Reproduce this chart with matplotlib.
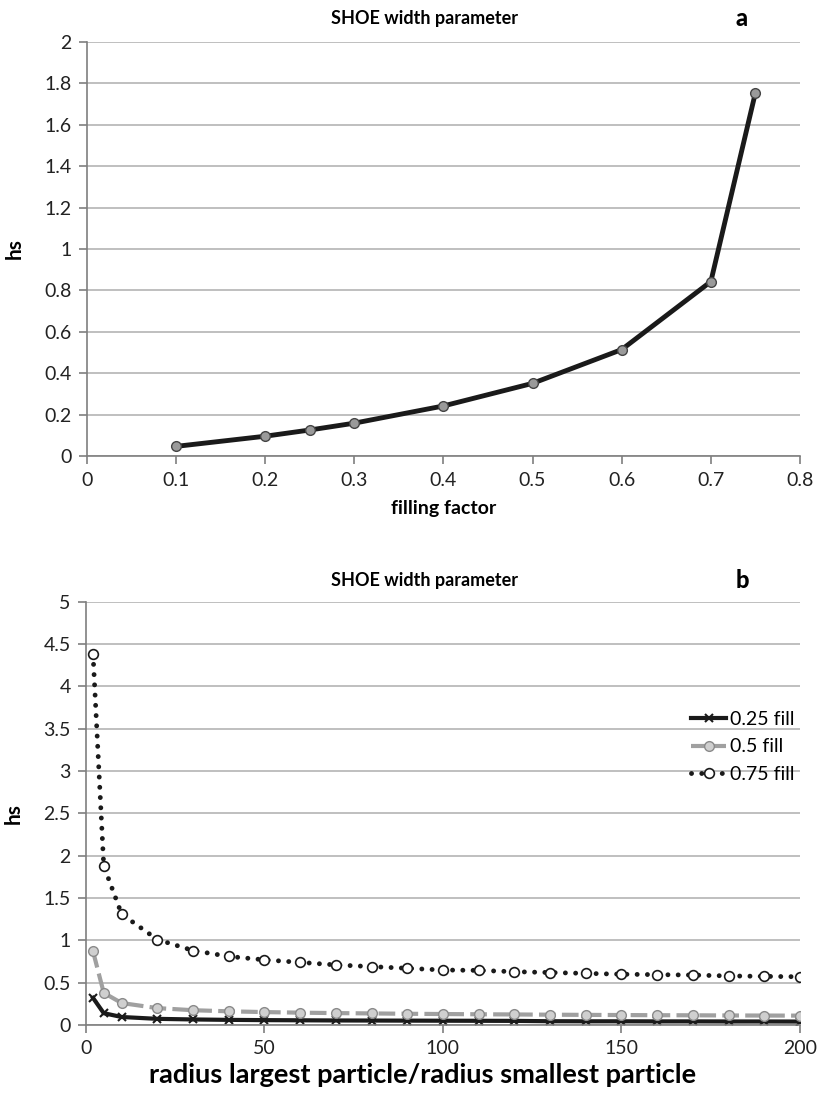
import matplotlib
matplotlib.use("Agg")
import matplotlib.pyplot as plt
from matplotlib.ticker import FuncFormatter, MultipleLocator

plt.rcParams['font.family'] = ['Lato', 'DejaVu Sans']

# panel a data
fill = [0.1, 0.2, 0.25, 0.3, 0.4, 0.5, 0.6, 0.7, 0.75]
hs_fill = [0.048, 0.097, 0.127, 0.16, 0.243, 0.352, 0.515, 0.843, 1.754]

# panel b data
ratio = [2, 5, 10, 20, 30, 40, 50, 60, 70, 80, 90, 100, 110, 120, 130, 140, 150, 160, 170, 180, 190, 200]
hs_025 = [0.32, 0.14, 0.095, 0.073, 0.066, 0.061, 0.058, 0.056, 0.054, 0.053, 0.052, 0.051, 0.050,
          0.049, 0.045, 0.044, 0.044, 0.043, 0.043, 0.042, 0.042, 0.041]
hs_050 = [0.87, 0.38, 0.26, 0.20, 0.175, 0.162, 0.153, 0.146, 0.141, 0.137, 0.133, 0.130, 0.127,
          0.125, 0.122, 0.120, 0.118, 0.116, 0.115, 0.113, 0.112, 0.111]
hs_075 = [4.38, 1.88, 1.31, 1.01, 0.88, 0.81, 0.77, 0.74, 0.71, 0.69, 0.67, 0.65, 0.645,
          0.63, 0.62, 0.61, 0.60, 0.595, 0.59, 0.58, 0.575, 0.57]

fmt = FuncFormatter(lambda v, p: '{:g}'.format(round(v, 3)))


def style_axes(ax):
    for s in ['top', 'right']:
        ax.spines[s].set_visible(False)
    for s in ['left', 'bottom']:
        ax.spines[s].set_color('#7f7f7f')
        ax.spines[s].set_linewidth(1.2)
    ax.grid(axis='y', color='#b4b4b4', linewidth=1.2)
    ax.set_axisbelow(True)
    ax.tick_params(direction='out', length=6, width=1.2, color='#7f7f7f',
                   labelsize=14, labelcolor='#222222', pad=5)
    ax.yaxis.set_major_formatter(fmt)
    ax.xaxis.set_major_formatter(fmt)


fig = plt.figure(figsize=(8.18, 10.97), dpi=100)

#%% panel a
ax1 = fig.add_axes([0.106, 0.584, 0.872, 0.378])
ax1.plot(fill, hs_fill, color='#1a1a1a', linewidth=3.5, marker='o', markersize=7,
         markerfacecolor='#9a9a9a', markeredgecolor='#444444', markeredgewidth=1)
ax1.set_xlim(0, 0.8)
ax1.set_ylim(0, 2)
ax1.xaxis.set_major_locator(MultipleLocator(0.1))
ax1.yaxis.set_major_locator(MultipleLocator(0.2))
style_axes(ax1)
ax1.set_title('SHOE width parameter', fontsize=13, fontweight='bold', pad=13, x=0.474)
ax1.set_xlabel('filling factor', fontsize=14, fontweight='bold', labelpad=8)
ax1.set_ylabel('hs', fontsize=15, fontweight='bold', labelpad=14)

#%% panel b
ax2 = fig.add_axes([0.105, 0.0656, 0.873, 0.386])
ax2.plot(ratio, hs_025, color='#1a1a1a', linewidth=3, marker='x', markersize=6,
         markeredgewidth=1.5, label='0.25 fill')
ax2.plot(ratio, hs_050, color='#a0a0a0', linewidth=3, linestyle=(0, (4, 1.5)), marker='o',
         markersize=7, markerfacecolor='#cfcfcf', markeredgecolor='#8a8a8a', label='0.5 fill')
ax2.plot(ratio, hs_075, color='#1a1a1a', linewidth=3.5, linestyle=(0, (0.01, 2.1)),
         dash_capstyle='round', marker='o', markersize=7, markerfacecolor='white',
         markeredgecolor='#1a1a1a', markeredgewidth=1.2, label='0.75 fill')
ax2.set_xlim(0, 200)
ax2.set_ylim(0, 5)
ax2.xaxis.set_major_locator(MultipleLocator(50))
ax2.yaxis.set_major_locator(MultipleLocator(0.5))
style_axes(ax2)
ax2.set_title('SHOE width parameter', fontsize=13, fontweight='bold', pad=11, x=0.474)
ax2.set_xlabel('radius largest particle/radius smallest particle', fontsize=19.5,
               fontweight='bold')
ax2.xaxis.set_label_coords(0.472, -0.09)
ax2.set_ylabel('hs', fontsize=15, fontweight='bold', labelpad=14)
ax2.legend(loc='center', bbox_to_anchor=(0.92, 0.657), frameon=False, fontsize=14,
           handlelength=1.8, handletextpad=0.2, labelspacing=0.55)

fig.text(0.907, 0.983, 'a', fontsize=17, fontweight=900, ha='center', va='center')
fig.text(0.908, 0.471, 'b', fontsize=17, fontweight=900, ha='center', va='center')

fig.savefig('out.png', dpi=100)
